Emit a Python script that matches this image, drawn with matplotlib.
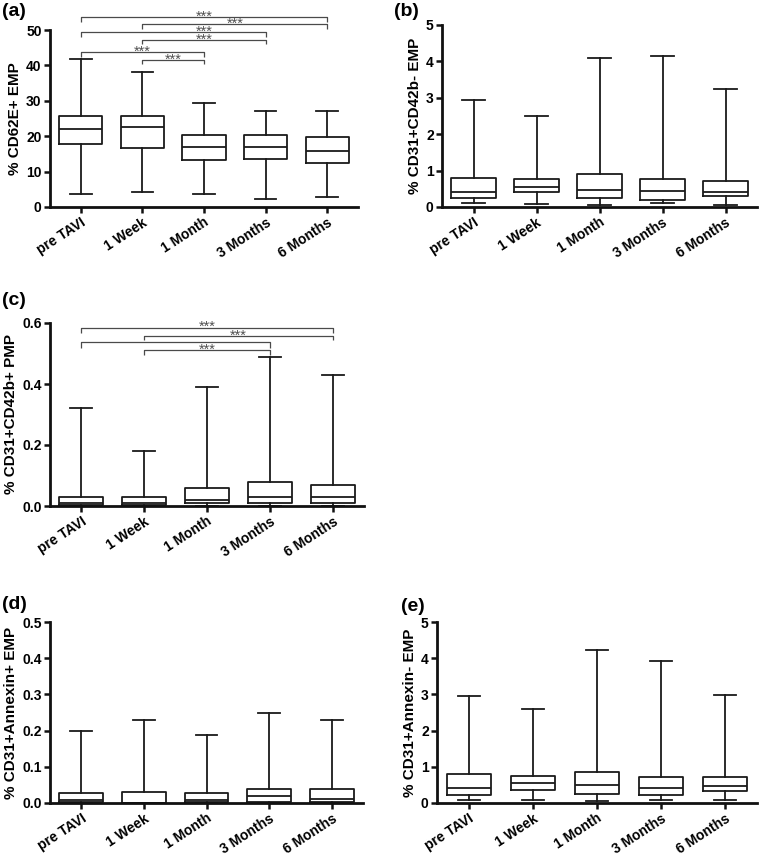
import matplotlib
matplotlib.use("Agg")
import matplotlib.pyplot as plt

plt.rcParams['font.family'] = ['Liberation Sans', 'DejaVu Sans']
plt.rcParams['font.weight'] = 'bold'

categories = ["pre TAVI", "1 Week", "1 Month", "3 Months", "6 Months"]

# panel (a) % CD62E+ EMP
a_min = [3.6, 4.2, 3.8, 2.2, 2.8]
a_q1 = [17.7, 16.8, 13.4, 13.5, 12.5]
a_med = [21.9, 22.5, 17.0, 17.0, 15.8]
a_q3 = [25.7, 25.7, 20.3, 20.3, 19.9]
a_max = [41.7, 38.0, 29.3, 27.2, 27.0]

# panel (b) % CD31+CD42b- EMP
b_min = [0.11, 0.08, 0.05, 0.11, 0.05]
b_q1 = [0.25, 0.40, 0.24, 0.19, 0.29]
b_med = [0.41, 0.56, 0.48, 0.43, 0.41]
b_q3 = [0.81, 0.76, 0.91, 0.77, 0.72]
b_max = [2.95, 2.51, 4.10, 4.15, 3.25]

# panel (c) % CD31+CD42b+ PMP
c_min = [0.0, 0.0, 0.0, 0.0, 0.0]
c_q1 = [0.004, 0.004, 0.010, 0.010, 0.010]
c_med = [0.009, 0.009, 0.020, 0.030, 0.030]
c_q3 = [0.030, 0.030, 0.059, 0.080, 0.069]
c_max = [0.321, 0.179, 0.389, 0.490, 0.428]

# panel (d) % CD31+Annexin+ EMP
d_min = [0.0, 0.0, 0.0, 0.0, 0.0]
d_q1 = [0.002, 0.0, 0.002, 0.002, 0.002]
d_med = [0.009, 0.0, 0.009, 0.020, 0.010]
d_q3 = [0.029, 0.030, 0.027, 0.040, 0.040]
d_max = [0.200, 0.229, 0.189, 0.250, 0.230]

# panel (e) % CD31+Annexin- EMP
e_min = [0.09, 0.08, 0.06, 0.09, 0.07]
e_q1 = [0.22, 0.36, 0.26, 0.21, 0.32]
e_med = [0.41, 0.55, 0.49, 0.42, 0.47]
e_q3 = [0.81, 0.75, 0.86, 0.73, 0.72]
e_max = [2.96, 2.61, 4.22, 3.93, 2.97]

ylabels = ["% CD62E+ EMP", "% CD31+CD42b- EMP", "% CD31+CD42b+ PMP",
           "% CD31+Annexin+ EMP", "% CD31+Annexin- EMP"]
panel_tags = ["(a)", "(b)", "(c)", "(d)", "(e)"]

# significance brackets: group i, group j, bracket height, tip height, label, label x
a_sig_i = [0, 1, 0, 1, 0, 1]
a_sig_j = [4, 4, 3, 3, 2, 2]
a_sig_y = [53.6, 51.7, 49.3, 47.2, 43.7, 41.5]
a_sig_tip = [52.2, 50.3, 47.9, 46.0, 42.3, 40.3]
a_sig_lab = ["***", "***", "***", "***", "***", "***"]
a_sig_labx = [2.0, 2.5, 2.0, 2.0, 1.0, 1.5]

c_sig_i = [0, 1, 0, 1]
c_sig_j = [4, 4, 3, 3]
c_sig_y = [0.585, 0.558, 0.537, 0.511]
c_sig_tip = [0.566, 0.544, 0.517, 0.495]
c_sig_lab = ["***", "***", "", "***"]
c_sig_labx = [2.0, 2.5, 1.5, 2.0]

W, H = 759, 857
fig = plt.figure(figsize=(W / 100, H / 100), dpi=100)


def rect(l, t, r, b):
    return [l / W, 1 - b / H, (r - l) / W, (b - t) / H]


def panel(pos, mins, q1, med, q3, maxs, ylim, yticks, yticklabels, ylabel):
    ax = fig.add_axes(rect(*pos))
    stats = []
    for k in range(len(categories)):
        stats.append(dict(med=med[k], q1=q1[k], q3=q3[k],
                          whislo=mins[k], whishi=maxs[k], label=categories[k]))
    lw = 1.3
    col = '#1a1a1a'
    ax.bxp(stats, positions=range(len(categories)), widths=0.7,
           showfliers=False, patch_artist=False,
           boxprops=dict(color=col, linewidth=lw),
           medianprops=dict(color=col, linewidth=lw),
           whiskerprops=dict(color=col, linewidth=lw),
           capprops=dict(color=col, linewidth=lw))
    ax.set_xlim(-0.5, len(categories) - 0.5)
    ax.set_ylim(*ylim)
    ax.set_yticks(yticks)
    ax.set_yticklabels(yticklabels, fontsize=10, fontweight='bold')
    ax.set_xticks(range(len(categories)))
    ax.set_xticklabels(categories, rotation=33, ha='right',
                       rotation_mode='anchor', fontsize=10, fontweight='bold')
    ax.set_ylabel(ylabel, fontsize=11, fontweight='bold', labelpad=3)
    for s in ['top', 'right']:
        ax.spines[s].set_visible(False)
    for s in ['left', 'bottom']:
        ax.spines[s].set_linewidth(2.0)
        ax.spines[s].set_color('#111111')
    ax.tick_params(axis='both', direction='out', width=1.8, length=4,
                   color='#111111', pad=2)
    return ax


def brackets(ax, si, sj, sy, stip, slab, slabx):
    for i, j, y, t, lab, lx in zip(si, sj, sy, stip, slab, slabx):
        ax.plot([i, i, j, j], [t, y, y, t], color='#4a4a4a', lw=0.9,
                clip_on=False, solid_capstyle='butt')
        if lab:
            ax.annotate(lab, xy=(lx, y), xytext=(0, -2.5),
                        textcoords='offset points', ha='center',
                        va='baseline', fontsize=10.5, color='#505050',
                        fontweight='normal', annotation_clip=False)


axa = panel((50, 30, 358, 207), a_min, a_q1, a_med, a_q3, a_max, (0, 50),
            [0, 10, 20, 30, 40, 50], ["0", "10", "20", "30", "40", "50"], ylabels[0])
brackets(axa, a_sig_i, a_sig_j, a_sig_y, a_sig_tip, a_sig_lab, a_sig_labx)

axb = panel((442, 25, 757, 207), b_min, b_q1, b_med, b_q3, b_max, (0, 5),
            [0, 1, 2, 3, 4, 5], ["0", "1", "2", "3", "4", "5"], ylabels[1])

axc = panel((50, 323, 364, 506), c_min, c_q1, c_med, c_q3, c_max, (0, 0.6),
            [0, 0.2, 0.4, 0.6], ["0.0", "0.2", "0.4", "0.6"], ylabels[2])
brackets(axc, c_sig_i, c_sig_j, c_sig_y, c_sig_tip, c_sig_lab, c_sig_labx)

axd = panel((50, 622, 363, 803), d_min, d_q1, d_med, d_q3, d_max, (0, 0.5),
            [0, 0.1, 0.2, 0.3, 0.4, 0.5],
            ["0.0", "0.1", "0.2", "0.3", "0.4", "0.5"], ylabels[3])

axe = panel((437, 622, 757, 803), e_min, e_q1, e_med, e_q3, e_max, (0, 5),
            [0, 1, 2, 3, 4, 5], ["0", "1", "2", "3", "4", "5"], ylabels[4])

tag_pos = [(2, 3), (394, 3), (2, 292), (2, 596), (401, 598)]
for tag, (x, y) in zip(panel_tags, tag_pos):
    fig.text(x / W, 1 - y / H, tag, fontsize=14, fontweight='bold',
             ha='left', va='top')

fig.savefig("out.png", dpi=100)
